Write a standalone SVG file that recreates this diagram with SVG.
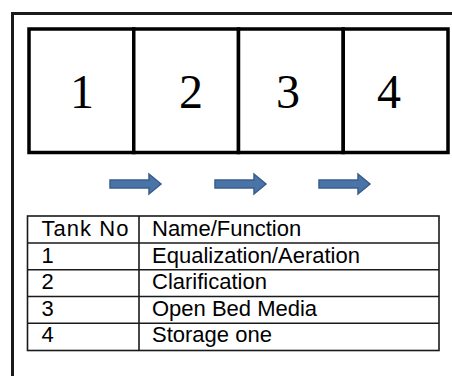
<svg xmlns="http://www.w3.org/2000/svg" width="452" height="376" viewBox="0 0 452 376">
<style>
.frame{fill:none;stroke:#1a1a1a;stroke-width:3}
.tank{fill:#fff;stroke:#000;stroke-width:3.5}
.num{font-family:"Liberation Serif","Times New Roman",serif;font-size:48px;fill:#000;text-anchor:middle}
.arrow{fill:#4a74a8;stroke:#385d8a;stroke-width:1.5}
.tbl{fill:none;stroke:#1a1a1a;stroke-width:1.6}
.cell{font-family:"Liberation Sans",Arial,sans-serif;font-size:22px;fill:#000}
</style>
<rect width="452" height="376" fill="#fff"/>
<path class="frame" d="M12.5,376 V13.5 H452"/>
<g id="tank1"><rect class="tank" x="29" y="29" width="104.75" height="123.5"/><text class="num" x="82" y="107.5">1</text></g>
<g id="tank2"><rect class="tank" x="133.75" y="29" width="104.75" height="123.5"/><text class="num" x="191" y="107.5">2</text></g>
<g id="tank3"><rect class="tank" x="238.5" y="29" width="104.75" height="123.5"/><text class="num" x="288" y="107.5">3</text></g>
<g id="tank4"><rect class="tank" x="343.25" y="29" width="104.75" height="123.5"/><text class="num" x="389" y="108">4</text></g>
<g id="connectors">
<path class="arrow" d="M110,180 H149 V174 L161,184 L149,194 V188 H110 Z"/>
<path class="arrow" d="M215,180 H254 V174 L266,184 L254,194 V188 H215 Z"/>
<path class="arrow" d="M319,180 H358 V174 L370,184 L358,194 V188 H319 Z"/>
</g>
<g id="table">
<rect class="tbl" x="27.5" y="216" width="411.5" height="134.5"/>
<line class="tbl" x1="139" y1="216" x2="139" y2="350.5"/>
<line class="tbl" x1="27.5" y1="243" x2="439" y2="243"/>
<line class="tbl" x1="27.5" y1="269.8" x2="439" y2="269.8"/>
<line class="tbl" x1="27.5" y1="296.5" x2="439" y2="296.5"/>
<line class="tbl" x1="27.5" y1="323.2" x2="439" y2="323.2"/>
<text class="cell" x="41.5" y="235.7" textLength="87" lengthAdjust="spacing">Tank No</text>
<text class="cell" x="152" y="235.7">Name/Function</text>
<text class="cell" x="41.5" y="262.5">1</text>
<text class="cell" x="152" y="262.5">Equalization/Aeration</text>
<text class="cell" x="41.5" y="289">2</text>
<text class="cell" x="152" y="289">Clarification</text>
<text class="cell" x="41.5" y="315.7">3</text>
<text class="cell" x="152" y="315.7">Open Bed Media</text>
<text class="cell" x="41.5" y="342.3">4</text>
<text class="cell" x="152" y="342.3">Storage one</text>
</g>
</svg>
